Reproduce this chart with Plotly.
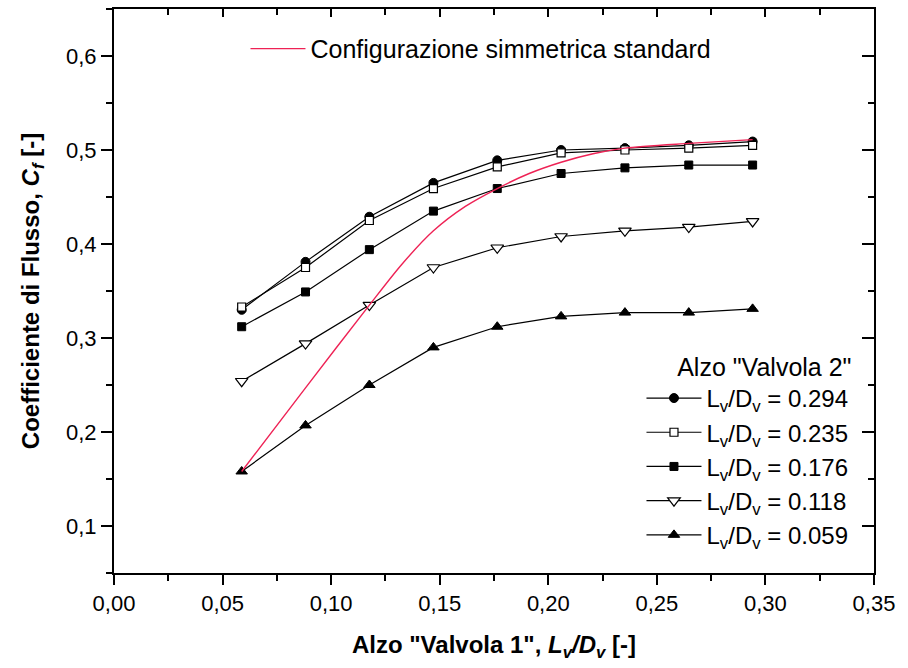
import plotly.graph_objects as go

# Valve-1 lift ratio (L_v/D_v) at which the flow coefficient was measured
lift_v1 = [0.0588, 0.0882, 0.1176, 0.1471, 0.1765, 0.2059, 0.2353, 0.2647, 0.2941]

# Flow coefficient Cf for each "Valvola 2" lift
cf_294 = [0.330, 0.381, 0.429, 0.465, 0.489, 0.500, 0.502, 0.505, 0.509]
cf_235 = [0.333, 0.375, 0.425, 0.459, 0.482, 0.497, 0.500, 0.502, 0.505]
cf_176 = [0.312, 0.349, 0.394, 0.435, 0.459, 0.475, 0.481, 0.484, 0.484]
cf_118 = [0.254, 0.294, 0.335, 0.375, 0.396, 0.408, 0.414, 0.418, 0.424]
cf_059 = [0.158, 0.207, 0.250, 0.290, 0.312, 0.323, 0.327, 0.327, 0.331]

# Standard symmetric configuration (smooth curve, read at half steps)
lift_sym = [0.0588, 0.0882, 0.1176, 0.1324, 0.1471, 0.1618, 0.1765,
            0.1912, 0.2059, 0.2206, 0.2353, 0.2647, 0.2941]
cf_sym = [0.158, 0.247, 0.335, 0.378, 0.414, 0.440, 0.459,
          0.475, 0.487, 0.496, 0.502, 0.507, 0.511]

series_names = ["0.294", "0.235", "0.176", "0.118", "0.059"]
series_values = [cf_294, cf_235, cf_176, cf_118, cf_059]
series_markers = [
    dict(symbol="circle", size=9, color="black", line=dict(color="black", width=1)),
    dict(symbol="square", size=8, color="white", line=dict(color="black", width=1.2)),
    dict(symbol="square", size=8, color="black", line=dict(color="black", width=1)),
    dict(symbol="triangle-down", size=11, color="white", line=dict(color="black", width=1.2)),
    dict(symbol="triangle-up", size=10, color="black", line=dict(color="black", width=1)),
]

FONT = "Liberation Sans, Arial, sans-serif"

fig = go.Figure()

for i, (name, vals, mk) in enumerate(zip(series_names, series_values, series_markers)):
    fig.add_trace(go.Scatter(
        x=lift_v1, y=vals, mode="lines+markers",
        name=f"L<sub>v</sub>/D<sub>v</sub> = {name}",
        line=dict(color="black", width=1.2),
        marker=mk,
        legend="legend2", legendgroup=f"g{i}",
    ))

fig.add_trace(go.Scatter(
    x=lift_sym, y=cf_sym, mode="lines",
    name="Configurazione simmetrica standard",
    line=dict(color="#ee2255", width=1.4, shape="spline", smoothing=0.8),
    legend="legend", showlegend=True,
))

axis_common = dict(
    showline=True, linecolor="black", linewidth=2,
    showgrid=False, zeroline=False,
    tickfont=dict(family=FONT, size=22, color="black"),
    tickwidth=2, tickcolor="black",
)

fig.update_layout(
    width=908, height=668,
    margin=dict(l=114, r=34, t=9, b=95),
    paper_bgcolor="white", plot_bgcolor="white",
    font=dict(family=FONT, size=22, color="black"),
    showlegend=True,
    xaxis=dict(
        range=[0, 0.35], dtick=0.05, tickformat=".2f",
        ticks="outside", ticklen=10,
        minor=dict(ticks="outside", ticklen=6, dtick=0.025, tickwidth=2, tickcolor="black"),
        title=dict(
            text="<b>Alzo \"Valvola 1\", <i>L<sub>v</sub>/D<sub>v</sub></i> [-]</b>",
            font=dict(family=FONT, size=24, color="black"), standoff=21,
        ),
        **axis_common,
    ),
    yaxis=dict(
        range=[0.05, 0.65], dtick=0.1, tickformat=".1f",
        ticks="outside", ticklen=11,
        minor=dict(ticks="outside", ticklen=6, dtick=0.05, tickwidth=2, tickcolor="black"),
        title=dict(
            text="<b>Coefficiente di Flusso, <i>C<sub>f</sub></i> [-]</b>",
            font=dict(family=FONT, size=24, color="black"), standoff=20,
        ),
        **axis_common,
    ),
    # mirrored frame with inward ticks on top and right
    xaxis2=dict(
        overlaying="x", side="top", matches="x", range=[0, 0.35], dtick=0.05,
        ticks="inside", ticklen=8, showticklabels=False,
        minor=dict(ticks="inside", ticklen=6, dtick=0.025, tickwidth=2, tickcolor="black"),
        showline=True, linecolor="black", linewidth=2, showgrid=False, zeroline=False,
        tickwidth=2, tickcolor="black",
    ),
    yaxis2=dict(
        overlaying="y", side="right", matches="y", range=[0.05, 0.65], dtick=0.1,
        ticks="inside", ticklen=12, showticklabels=False,
        minor=dict(ticks="inside", ticklen=6, dtick=0.05, tickwidth=2, tickcolor="black"),
        showline=True, linecolor="black", linewidth=2, showgrid=False, zeroline=False,
        tickwidth=2, tickcolor="black",
    ),
    separators=",.",
    legend=dict(
        x=0.173, y=0.97, xanchor="left", yanchor="top",
        bgcolor="rgba(0,0,0,0)", font=dict(family=FONT, size=25, color="black"),
        itemwidth=55, visible=True,
    ),
    legend2=dict(
        x=0.973, y=0.407, xanchor="right", yanchor="top",
        bgcolor="rgba(0,0,0,0)", font=dict(family=FONT, size=24, color="black"),
        title=dict(text="Alzo \"Valvola 2\"", side="top right",
                   font=dict(family=FONT, size=25, color="black")),
        tracegroupgap=0, itemwidth=55,
    ),
)

# empty trace so the mirrored axes are drawn
fig.add_trace(go.Scatter(x=[], y=[], xaxis="x2", yaxis="y2", showlegend=False, hoverinfo="skip"))

fig.write_html("out.html")
